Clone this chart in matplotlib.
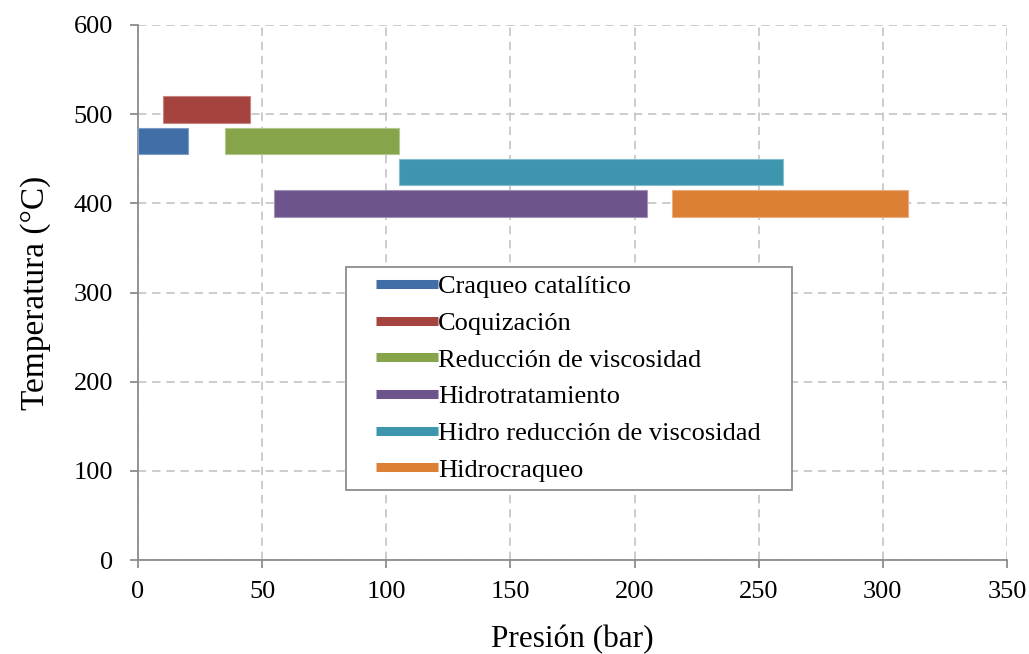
import matplotlib.pyplot as plt
from matplotlib.lines import Line2D
from matplotlib.legend_handler import HandlerLine2D

# Rangos de operación de cada proceso
procesos = ['Craqueo catalítico', 'Coquización', 'Reducción de viscosidad',
            'Hidrotratamiento', 'Hidro reducción de viscosidad', 'Hidrocraqueo']
presion_min = [0, 10, 35, 55, 105, 215]
presion_max = [20, 45, 105, 205, 260, 310]
temperatura = [470, 505, 470, 400, 435, 400]
colores = ['#416EA7', '#A5433F', '#86A44A', '#6D548C', '#3E95AE', '#DB8035']
bordes = ['#7F9DC8', '#C98582', '#B3C88A', '#A193B6', '#86BDCD', '#EBAE80']

plt.rcParams['font.family'] = ['Liberation Serif', 'DejaVu Serif']

fig = plt.figure(figsize=(10.29, 6.54), dpi=100)
ax = fig.add_axes([0.134, 0.1437, 0.8446, 0.8181])

ancho = [b - a for a, b in zip(presion_min, presion_max)]
ax.barh(temperatura, ancho, left=presion_min, height=30, color=colores,
        edgecolor=bordes, linewidth=0.8, zorder=3)

ax.set_xlim(0, 350)
ax.set_ylim(0, 600)
ax.set_xticks(range(0, 351, 50))
ax.set_yticks(range(0, 601, 100))
ax.grid(True, linestyle=(0, (5, 3.5)), color='#C4C4C4', linewidth=1.2, zorder=0)

for lado in ['top', 'right']:
    ax.spines[lado].set_visible(False)
for lado in ['left', 'bottom']:
    ax.spines[lado].set_color('#8C8C8C')
    ax.spines[lado].set_linewidth(1.3)
ax.tick_params(axis='both', direction='out', length=6, width=1.3,
               color='#8C8C8C', labelsize=19)
ax.tick_params(axis='x', pad=9)
ax.tick_params(axis='y', pad=12)

ax.set_xlabel('Presión (bar)', fontsize=22.5, labelpad=16)
ax.set_ylabel('Temperatura (°C)', fontsize=24, labelpad=16)

# Leyenda con trazos gruesos, caja fija en píxeles de la figura
W, H = 1029, 654
caja = (346 / W, 1 - 489 / H, (792 - 346) / W, (489 - 267) / H)
manijas = [Line2D([0], [0], color=c, lw=6.5, solid_capstyle='butt') for c in colores]
leg = ax.legend(manijas, procesos, loc='upper left', mode='expand',
                bbox_to_anchor=caja, bbox_transform=fig.transFigure,
                fontsize=19, frameon=True, fancybox=False, framealpha=1,
                edgecolor='#8C8C8C', handlelength=3.17, handletextpad=0.02,
                labelspacing=0.5, borderpad=0.3, borderaxespad=0,
                handler_map={Line2D: HandlerLine2D(xpad=0.82)})
leg.get_frame().set_linewidth(1.3)
leg.set_zorder(5)

fig.savefig('out.png', dpi=100)
